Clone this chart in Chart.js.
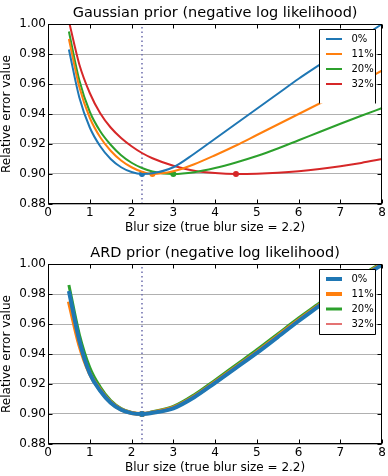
<!DOCTYPE html>
<html>
<head>
<meta charset="utf-8">
<script src="https://cdn.jsdelivr.net/npm/chart.js@4.4.1/dist/chart.umd.min.js"></script>
<style>
  body { margin: 0; background: #fff; }
  #wrap { position: relative; width: 388px; height: 476px; overflow: hidden; }
  canvas { position: absolute; left: 0; }
</style>
</head>
<body>
<div id="wrap">
  <canvas id="gauss" width="388" height="238" style="top:0px"></canvas>
  <canvas id="ard" width="388" height="238" style="top:240px"></canvas>
</div>
<script>
// blur sizes where the error was evaluated
const blurSizes = [0.5, 0.75, 1, 1.25, 1.5, 1.75, 2, 2.25, 2.5, 3, 3.5, 4, 4.5, 5, 5.5, 6, 6.5, 7, 7.5, 8];
const noiseLabels = ['0%', '11%', '20%', '32%'];
const seriesColors = ['#1f77b4', '#ff7f0e', '#2ca02c', '#d62728'];

// Gaussian prior
const gauss0  = [0.983, 0.951, 0.931, 0.9185, 0.910, 0.9045, 0.9013, 0.900, 0.9005, 0.9045, 0.9135, 0.9235, 0.9335, 0.9435, 0.9535, 0.9635, 0.9728, 0.982, 0.991, 1.000];
const gauss11 = [0.990, 0.958, 0.9375, 0.9245, 0.9155, 0.909, 0.9045, 0.9015, 0.900, 0.9018, 0.9065, 0.9125, 0.919, 0.926, 0.933, 0.940, 0.947, 0.954, 0.9615, 0.969];
const gauss20 = [0.995, 0.9625, 0.9415, 0.9285, 0.9195, 0.9125, 0.9075, 0.904, 0.9017, 0.900, 0.9012, 0.904, 0.9077, 0.912, 0.917, 0.9225, 0.928, 0.9335, 0.9388, 0.944];
const gauss32 = [1.002, 0.973, 0.954, 0.9405, 0.931, 0.924, 0.9185, 0.914, 0.9105, 0.9055, 0.9022, 0.9006, 0.900, 0.9002, 0.9008, 0.9018, 0.9033, 0.9052, 0.9074, 0.910];
const gaussMinX = [2.25, 2.5, 3.0, 4.5];
const gaussMinY = [0.900, 0.900, 0.900, 0.900];

// ARD prior
const ard0  = [0.982, 0.949, 0.927, 0.9155, 0.9075, 0.9028, 0.9006, 0.900, 0.9008, 0.9038, 0.9112, 0.9208, 0.9307, 0.9407, 0.9513, 0.962, 0.9722, 0.9825, 0.991, 0.9995];
const ard11 = [0.975, 0.946, 0.927, 0.916, 0.9078, 0.903, 0.9007, 0.900, 0.9010, 0.9042, 0.9117, 0.9213, 0.9313, 0.9413, 0.952, 0.9626, 0.9728, 0.983, 0.9915, 1.000];
const ard20 = [0.986, 0.953, 0.931, 0.918, 0.909, 0.9037, 0.901, 0.900, 0.9015, 0.905, 0.9128, 0.9226, 0.9327, 0.9428, 0.9534, 0.964, 0.974, 0.9842, 0.9925, 1.001];
const ard32 = [0.982, 0.951, 0.929, 0.9165, 0.908, 0.903, 0.9008, 0.900, 0.9012, 0.9044, 0.912, 0.9217, 0.9317, 0.9417, 0.9523, 0.9629, 0.9731, 0.9833, 0.9917, 1.000];
const ardMinX = [2.25, 2.25, 2.25, 2.25];
const ardMinY = [0.900, 0.900, 0.900, 0.900];

const trueBlur = 2.25;
const yRange = [0.88, 1.00];
const xTicks = [0, 1, 2, 3, 4, 5, 6, 7, 8];
const yTicks = [0.88, 0.90, 0.92, 0.94, 0.96, 0.98, 1.00];

Chart.defaults.font.family = '"DejaVu Sans", sans-serif';
Chart.defaults.color = '#000';

function pts(xs, ys) { return xs.map((x, i) => ({x: x, y: ys[i]})); }

// matplotlib style frame, inward ticks and boxed legend
const framePlugin = {
  id: 'frame',
  afterDraw(chart, args, opts) {
    const ctx = chart.ctx;
    const a = chart.chartArea;
    const sx = chart.scales.x, sy = chart.scales.y;
    const L = Math.round(a.left) + 0.5, R = Math.round(a.right) - 0.5;
    const T = Math.round(a.top) + 0.5, B = Math.round(a.bottom) - 0.5;

    // legend
    const items = chart.data.datasets.filter(d => d.inLegend);
    const lx = Math.round(a.right - 63) + 0.5, rx = Math.round(a.right - 7) + 0.5;
    const ty = Math.round(a.top + 5) + 0.5, by = ty + opts.legendHeight;
    ctx.save();
    ctx.fillStyle = '#fff';
    ctx.fillRect(lx, ty, rx - lx, by - ty);
    ctx.strokeStyle = '#000';
    ctx.lineWidth = 1;
    ctx.beginPath();
    ctx.moveTo(lx, by); ctx.lineTo(lx, ty); ctx.lineTo(rx, ty); ctx.lineTo(rx, by);
    if (!opts.openBottom) ctx.closePath();
    ctx.stroke();
    ctx.font = '10px "DejaVu Sans"';
    ctx.textBaseline = 'middle';
    ctx.textAlign = 'left';
    items.forEach((d, i) => {
      const yy = ty + 9.5 + i * 15;
      ctx.strokeStyle = d.borderColor;
      ctx.lineWidth = d.borderWidth;
      ctx.beginPath();
      ctx.moveTo(lx + 6.5, yy); ctx.lineTo(lx + 22.5, yy);
      ctx.stroke();
      ctx.fillStyle = '#000';
      ctx.fillText(d.label, lx + 32, yy);
    });

    // frame
    ctx.strokeStyle = '#000';
    ctx.lineWidth = 1;
    ctx.strokeRect(L, T, R - L, B - T);
    ctx.beginPath();
    xTicks.forEach(v => {
      const px = Math.round(sx.getPixelForValue(v)) + 0.5;
      ctx.moveTo(px, B); ctx.lineTo(px, B - 4);
      ctx.moveTo(px, T); ctx.lineTo(px, T + 4);
    });
    yTicks.forEach(v => {
      const py = Math.round(sy.getPixelForValue(v)) + 0.5;
      ctx.moveTo(L, py); ctx.lineTo(L + 4, py);
      ctx.moveTo(R, py); ctx.lineTo(R - 4, py);
    });
    ctx.stroke();
    ctx.restore();
  }
};

function makeChart(id, title, series, widths, minX, minY, legendOpts) {
  const datasets = [];
  series.forEach((s, i) => {
    datasets.push({
      label: noiseLabels[i],
      inLegend: true,
      data: pts(blurSizes, s),
      borderColor: seriesColors[i],
      borderWidth: widths[i],
      pointRadius: 0,
      cubicInterpolationMode: 'monotone',
      fill: false
    });
  });
  series.forEach((s, i) => {
    datasets.push({
      data: [{x: minX[i], y: minY[i]}],
      showLine: false,
      pointRadius: 3,
      pointBackgroundColor: seriesColors[i],
      pointBorderColor: seriesColors[i],
      pointBorderWidth: 0
    });
  });
  datasets.push({
    data: [{x: trueBlur, y: yRange[0]}, {x: trueBlur, y: yRange[1]}],
    borderColor: '#6b6bab',
    borderWidth: 1.5,
    borderDash: [1.5, 3],
    pointRadius: 0
  });

  return new Chart(document.getElementById(id), {
    type: 'line',
    data: {datasets: datasets},
    options: {
      responsive: false,
      animation: false,
      events: [],
      layout: {padding: {left: 0, right: 4, top: 0, bottom: 0}},
      plugins: {
        legend: {display: false},
        tooltip: {enabled: false},
        title: {
          display: true,
          fullSize: false,
          text: title,
          font: {size: 14.5, weight: 'normal'},
          color: '#000',
          padding: {top: 5, bottom: 1.6}
        },
        frame: legendOpts
      },
      scales: {
        x: {
          type: 'linear',
          min: 0,
          max: 8,
          afterBuildTicks: s => { s.ticks = xTicks.map(v => ({value: v})); },
          afterFit: s => { s.height = 34; },
          grid: {display: false, drawTicks: false},
          border: {display: false},
          ticks: {font: {size: 12}, color: '#000', padding: 2, maxRotation: 0,
                  callback: v => String(v)},
          title: {display: true, text: 'Blur size (true blur size = 2.2)',
                  font: {size: 12}, color: '#000', padding: {top: 0, bottom: 3.4}}
        },
        y: {
          min: yRange[0],
          max: yRange[1],
          afterBuildTicks: s => { s.ticks = yTicks.map(v => ({value: v})); },
          afterFit: s => { s.width = 48; },
          grid: {color: '#b0b0b0', lineWidth: 1, drawTicks: false},
          border: {display: false},
          ticks: {font: {size: 12}, color: '#000', padding: 2,
                  callback: v => Number(v).toFixed(2)},
          title: {display: true, text: 'Relative error value',
                  font: {size: 12}, color: '#000', padding: {top: 0, bottom: 0}}
        }
      }
    },
    plugins: [framePlugin]
  });
}

makeChart('gauss', 'Gaussian prior (negative log likelihood)',
  [gauss0, gauss11, gauss20, gauss32], [2, 2, 2, 2], gaussMinX, gaussMinY,
  {legendHeight: 74, openBottom: true});

makeChart('ard', 'ARD prior (negative log likelihood)',
  [ard0, ard11, ard20, ard32], [4, 4, 3, 1.3], ardMinX, ardMinY,
  {legendHeight: 65, openBottom: false});
</script>
</body>
</html>
